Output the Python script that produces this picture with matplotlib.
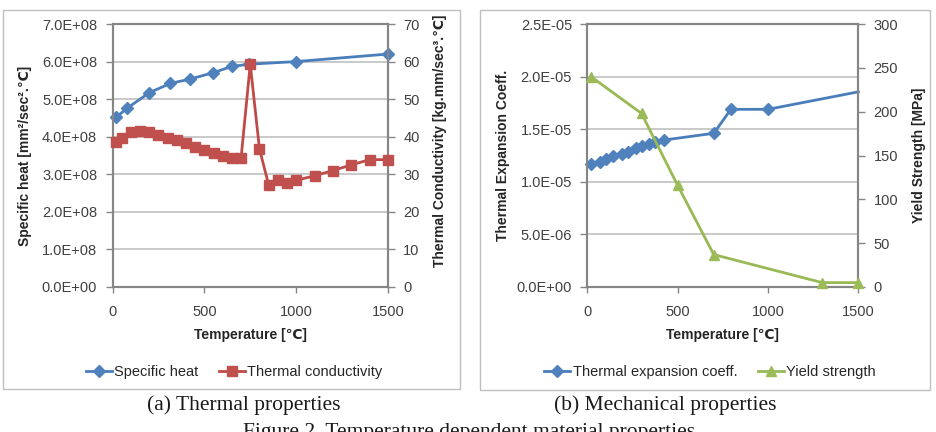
import matplotlib
matplotlib.use("Agg")
import matplotlib.pyplot as plt
from matplotlib.patches import Rectangle
from matplotlib.lines import Line2D

plt.rcParams['font.family'] = ['Liberation Sans', 'DejaVu Sans']

# ---------------- data ----------------
sh_temp = [20, 80, 200, 315, 420, 545, 650, 745, 1000, 1500]
sh_val = [4.52e8, 4.76e8, 5.17e8, 5.42e8, 5.53e8, 5.70e8, 5.87e8, 5.93e8, 6.00e8, 6.20e8]

tc_temp = [20, 50, 100, 150, 200, 250, 300, 350, 400, 450, 500, 550, 600, 650, 700,
           750, 800, 850, 900, 950, 1000, 1100, 1200, 1300, 1400, 1500]
tc_val = [38.7, 39.7, 41.3, 41.6, 41.2, 40.4, 39.7, 39.0, 38.2, 37.3, 36.4, 35.7, 34.9,
          34.3, 34.3, 59.3, 36.8, 27.2, 28.4, 27.8, 28.4, 29.6, 31.0, 32.5, 33.9, 33.9]

te_temp = [20, 70, 105, 145, 190, 225, 270, 300, 340, 375, 425, 700, 795, 1000, 1500]
te_val = [1.166e-5, 1.191e-5, 1.213e-5, 1.245e-5, 1.264e-5, 1.286e-5, 1.318e-5, 1.340e-5,
          1.359e-5, 1.381e-5, 1.397e-5, 1.461e-5, 1.689e-5, 1.689e-5, 1.855e-5]
te_marker_count = 14  # last point drawn without marker

ys_temp = [20, 300, 500, 700, 1300, 1500]
ys_val = [240, 198, 116, 37, 5, 5]

x_ticks = [0, 500, 1000, 1500]
sh_ticks = [0, 1e8, 2e8, 3e8, 4e8, 5e8, 6e8, 7e8]
tc_ticks = [0, 10, 20, 30, 40, 50, 60, 70]
te_ticks = [0, 5e-6, 1e-5, 1.5e-5, 2e-5, 2.5e-5]
ys_ticks = [0, 50, 100, 150, 200, 250, 300]

# ---------------- style ----------------
W, H = 936, 432
BLUE = '#4A7EBB'
RED = '#BE4B48'
GREEN = '#98B954'
SPINE = '#868686'
GRID = '#c0c0c0'
TXT = '#404040'
FS = 10.5

fig = plt.figure(figsize=(W / 100, H / 100), dpi=100)


def fx(px):
    return px / W


def fy(py):
    return 1 - py / H


def style_axes(ax, axr, ylab_l, ylab_r, lx, rx, ry):
    for a in (ax, axr):
        for s in a.spines.values():
            s.set_color(SPINE)
            s.set_linewidth(1.5)
    ax.set_axisbelow(True)
    ax.yaxis.grid(True, color=GRID, lw=1.2)
    ax.set_xlim(0, 1500)
    ax.set_xticks(x_ticks)
    ax.tick_params(axis='x', direction='out', length=4, width=1, color=SPINE,
                   labelsize=FS, labelcolor=TXT, pad=9)
    ax.tick_params(axis='y', direction='out', length=5, width=1, color=SPINE,
                   labelsize=FS, labelcolor=TXT, pad=6)
    axr.tick_params(axis='y', direction='out', length=5, width=1, color=SPINE,
                    labelsize=FS, labelcolor=TXT, pad=6)
    ax.set_xlabel('Temperature [℃]', fontsize=10, fontweight='bold', color='#262626')
    ax.xaxis.set_label_coords(0.5, -0.1825)
    ax.xaxis.label.set_verticalalignment('center')
    ax.set_ylabel(ylab_l, fontsize=10, fontweight='bold', color='#262626')
    ax.yaxis.set_label_coords(lx, 0.5)
    ax.yaxis.label.set_verticalalignment('center')
    axr.set_ylabel(ylab_r, fontsize=10, fontweight='bold', color='#262626')
    axr.yaxis.set_label_coords(rx, ry)
    axr.yaxis.label.set_verticalalignment('center')


def sci(v):
    return f"{v:.1E}"


# ---------------- (a) thermal ----------------
ax1 = fig.add_axes([fx(112.5), fy(287), fx(388) - fx(112.5), fy(24) - fy(287)])
ax1r = ax1.twinx()
ax1.plot(sh_temp, sh_val, color=BLUE, lw=2, marker='D', ms=6,
         mfc='#4F81BD', mec='#4F81BD', clip_on=False, zorder=3)
ax1r.plot(tc_temp, tc_val, color=RED, lw=2, marker='s', ms=7,
          mfc='#C0504D', mec='#C0504D', clip_on=False, zorder=3)
ax1.set_ylim(0, 7e8)
ax1.set_yticks(sh_ticks)
ax1.set_yticklabels([sci(v) for v in sh_ticks])
ax1r.set_ylim(0, 70)
ax1r.set_yticks(tc_ticks)
style_axes(ax1, ax1r, 'Specific heat [mm²/sec².℃]', 'Thermal Conductivity [kg.mm/sec³.℃]',
           (25 - 112.5) / 275.5, (440 - 112.5) / 275.5, 0.555)

h1 = [Line2D([], [], color=BLUE, lw=2, marker='D', ms=6, mfc='#4F81BD', mec='#4F81BD'),
      Line2D([], [], color=RED, lw=2, marker='s', ms=7, mfc='#C0504D', mec='#C0504D')]
fig.legend(h1, ['Specific heat', 'Thermal conductivity'], loc='center',
           bbox_to_anchor=(fx(234), fy(372)), ncol=2, frameon=False, fontsize=10.5,
           handlelength=1.8, handletextpad=0.15, columnspacing=1.4, labelcolor='#262626')

# ---------------- (b) mechanical ----------------
ax2 = fig.add_axes([fx(587.3), fy(287), fx(858.3) - fx(587.3), fy(24) - fy(287)])
ax2r = ax2.twinx()
ax2.plot(te_temp, te_val, color=BLUE, lw=2, marker='D', ms=6,
         mfc='#4F81BD', mec='#4F81BD', markevery=list(range(te_marker_count)),
         clip_on=False, zorder=3)
ax2r.plot(ys_temp, ys_val, color=GREEN, lw=2, marker='^', ms=7.5,
          mfc='#9BBB59', mec='#9BBB59', clip_on=False, zorder=3)
ax2.set_ylim(0, 2.5e-5)
ax2.set_yticks(te_ticks)
ax2.set_yticklabels([sci(v) for v in te_ticks])
ax2r.set_ylim(0, 300)
ax2r.set_yticks(ys_ticks)
style_axes(ax2, ax2r, 'Thermal Expansion Coeff.', 'Yield Strength [MPa]',
           (503 - 587.3) / 271, (919 - 587.3) / 271, 0.5)

h2 = [Line2D([], [], color=BLUE, lw=2, marker='D', ms=6, mfc='#4F81BD', mec='#4F81BD'),
      Line2D([], [], color=GREEN, lw=2, marker='^', ms=7.5, mfc='#9BBB59', mec='#9BBB59')]
fig.legend(h2, ['Thermal expansion coeff.', 'Yield strength'], loc='center',
           bbox_to_anchor=(fx(710), fy(372)), ncol=2, frameon=False, fontsize=10.5,
           handlelength=1.8, handletextpad=0.15, columnspacing=1.4, labelcolor='#262626')

# ---------------- chart-area boxes ----------------
for (x0, y0, x1, y1) in [(3, 10, 460, 389), (480, 10, 930, 390)]:
    fig.patches.append(Rectangle((fx(x0), fy(y1)), fx(x1) - fx(x0), fy(y0) - fy(y1),
                                 transform=fig.transFigure, fill=False,
                                 ec='#bfbfbf', lw=1))

# ---------------- captions ----------------
serif = ['Liberation Serif', 'DejaVu Serif']
fig.text(fx(244), fy(405), '(a) Thermal properties', family=serif, fontsize=15.5,
         ha='center', va='center', color='#1a1a1a')
fig.text(fx(665), fy(405), '(b) Mechanical properties', family=serif, fontsize=15.5,
         ha='center', va='center', color='#1a1a1a')
fig.text(fx(469), fy(437), 'Figure 2. Temperature dependent material properties',
         family=serif, fontsize=15.5, ha='center', va='baseline', color='#1a1a1a')

fig.savefig('out.png', dpi=100)
